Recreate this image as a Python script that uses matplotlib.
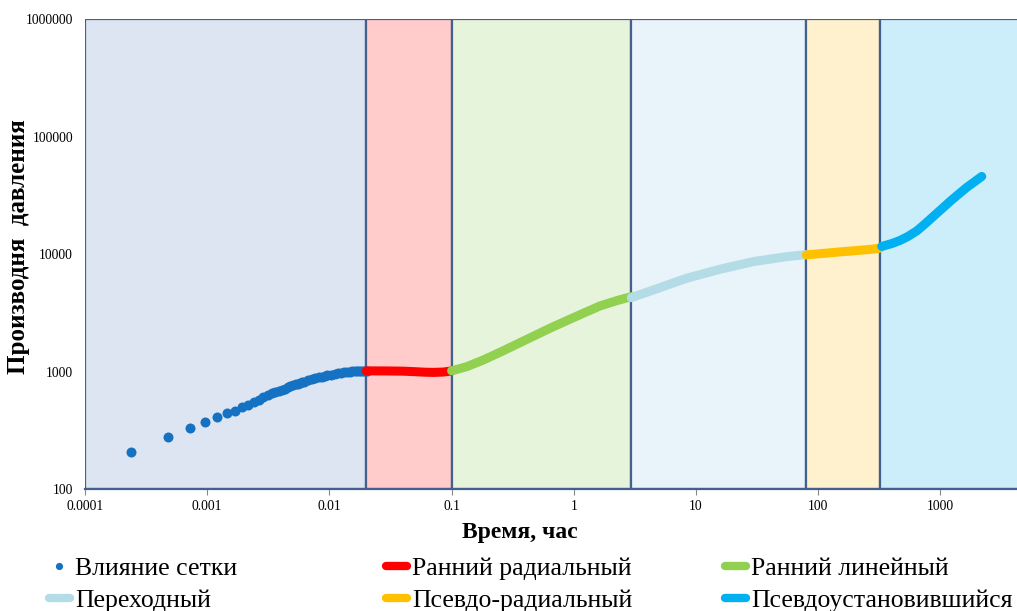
import matplotlib
matplotlib.use("Agg")
import matplotlib.pyplot as plt
from matplotlib.lines import Line2D

plt.rcParams['font.family'] = ['Liberation Serif', 'DejaVu Serif']

# Flow regimes: time boundaries (hours)
regime_bounds = [0.0001, 0.02, 0.1, 2.95, 80, 320, 10000]
regime_fill = ['#DCE5F1', '#FFCBCB', '#E7F4DC', '#E8F3FA', '#FFF1CD', '#CCEDFA']

# Wellbore/grid effect points
t_grid = [0.00024, 0.00048, 0.00072, 0.00096, 0.0012, 0.00144, 0.00168, 0.00192,
          0.00216, 0.0024, 0.00264, 0.00288, 0.00312, 0.00336, 0.0036, 0.00384,
          0.00408, 0.00432, 0.00456, 0.0048, 0.00504, 0.00528, 0.00552, 0.00576,
          0.006, 0.00624, 0.00672, 0.0072, 0.00768, 0.00816, 0.00864, 0.00912,
          0.0096, 0.01032, 0.01104, 0.01176, 0.01248, 0.0132, 0.01392, 0.01464,
          0.01536, 0.01608, 0.0168, 0.01752, 0.01824, 0.01896, 0.01968, 0.02016]
d_grid = [205, 277, 330, 372, 408, 441, 464, 497,
          522, 550, 578, 605, 631, 652, 670, 686,
          703, 717, 734, 750, 765, 779, 791, 802,
          813, 823, 842, 860, 876, 891, 907, 919,
          930, 944, 958, 968, 978, 986, 993, 999,
          1003, 1007, 1009, 1011, 1013, 1014, 1014, 1014]

# Early radial flow
t_er = [0.02, 0.03, 0.04, 0.05, 0.06, 0.07, 0.085, 0.1]
d_er = [1014, 1012, 1008, 998, 988, 984, 990, 1012]

# Early linear flow
t_el = [0.1, 0.133, 0.182, 0.249, 0.341, 0.466, 0.638, 0.875, 1.196, 1.638, 2.244, 2.95]
d_el = [1015, 1101, 1256, 1460, 1708, 1999, 2338, 2714, 3138, 3622, 4018, 4345]

# Transition
t_tr = [2.95, 4.48, 8.37, 15.7, 29.4, 55.2, 80]
d_tr = [4260, 4955, 6235, 7435, 8635, 9525, 9900]

# Pseudo-radial flow
t_pr = [80, 110, 150, 210, 270, 320]
d_pr = [9850, 10150, 10450, 10750, 11000, 11250]

# Pseudo-steady state
t_ps = [331, 402, 467, 543, 640, 748, 875, 1025, 1198, 1401, 1641, 1919, 2178]
d_ps = [11630, 12330, 13080, 14150, 15760, 18080, 20950, 24270, 28110, 32250,
        37000, 41630, 45900]

series_labels = ['Влияние сетки', 'Ранний радиальный', 'Ранний линейный',
                 'Переходный', 'Псевдо-радиальный', 'Псевдоустановившийся']
series_colors = ['#1572C2', '#FF0000', '#92D050', '#B3DCE6', '#FFC000', '#00B0F0']

x_ticks = [0.0001, 0.001, 0.01, 0.1, 1, 10, 100, 1000]
x_tick_labels = ['0.0001', '0.001', '0.01', '0.1', '1', '10', '100', '1000']
y_ticks = [100, 1000, 10000, 100000, 1000000]
y_tick_labels = ['100', '1000', '10000', '100000', '1000000']

W, H = 1017, 611
AX_W = W - 85 + 10
fig = plt.figure(figsize=(W / 100, H / 100), dpi=100)
ax = fig.add_axes([85 / W, (H - 489) / H, AX_W / W, (489 - 19.3) / H])

ax.set_xscale('log')
ax.set_yscale('log')
ax.set_xlim(0.0001, 10 ** (-4 + AX_W / 122.2))
ax.set_ylim(100, 1000000)

edge = '#43618C'
for i, c in enumerate(regime_fill):
    ax.axvspan(regime_bounds[i], regime_bounds[i + 1], ymin=0, ymax=1,
               facecolor=c, edgecolor=edge, linewidth=1.6, zorder=1)

lw = 6.5
ax.plot(t_grid, d_grid, 'o', color=series_colors[0], markersize=7.2,
        markeredgewidth=0, zorder=3)
for t, d, col in [(t_er, d_er, series_colors[1]), (t_el, d_el, series_colors[2]),
                  (t_tr, d_tr, series_colors[3]), (t_pr, d_pr, series_colors[4]),
                  (t_ps, d_ps, series_colors[5])]:
    ax.plot(t, d, '-', color=col, linewidth=lw, solid_capstyle='round',
            solid_joinstyle='round', zorder=3)

for s in ['top', 'right', 'left']:
    ax.spines[s].set_visible(False)
ax.spines['bottom'].set_color(edge)
ax.spines['bottom'].set_linewidth(1.6)
ax.spines['bottom'].set_zorder(4)

ax.set_xticks(x_ticks)
ax.set_xticklabels(x_tick_labels)
ax.set_yticks(y_ticks)
ax.set_yticklabels(y_tick_labels)
ax.minorticks_off()
ax.tick_params(axis='x', length=4, width=0.8, color='#888888', labelsize=9.8, pad=3.6)
ax.tick_params(axis='y', length=0, labelsize=9.8, pad=8.6)

ax.set_xlabel('Время, час', fontsize=17, fontweight='bold')
ax.xaxis.set_label_coords((520 - 85) / AX_W, -0.0705)
ax.set_ylabel('Производня  давления', fontsize=18, fontweight='bold')
ax.yaxis.set_label_coords(-0.058, 0.515)

# Legend: three columns of two entries
def handle(i):
    if i == 0:
        return Line2D([], [], linestyle='none', marker='o', color=series_colors[0],
                      markersize=5.2, markeredgewidth=0)
    return Line2D([], [], color=series_colors[i], linewidth=6, solid_capstyle='round')

columns = [([0, 3], 49), ([1, 4], 386), ([2, 5], 725)]
for idx, xpix in columns:
    fig.legend([handle(i) for i in idx], [series_labels[i] for i in idx],
               loc='upper left', bbox_to_anchor=(xpix / W, 1 - 557.5 / H),
               frameon=False, fontsize=18.5, handlelength=0.8, handletextpad=0.22,
               labelspacing=0.33, borderpad=0, borderaxespad=0)

fig.savefig('out.png', dpi=100)
